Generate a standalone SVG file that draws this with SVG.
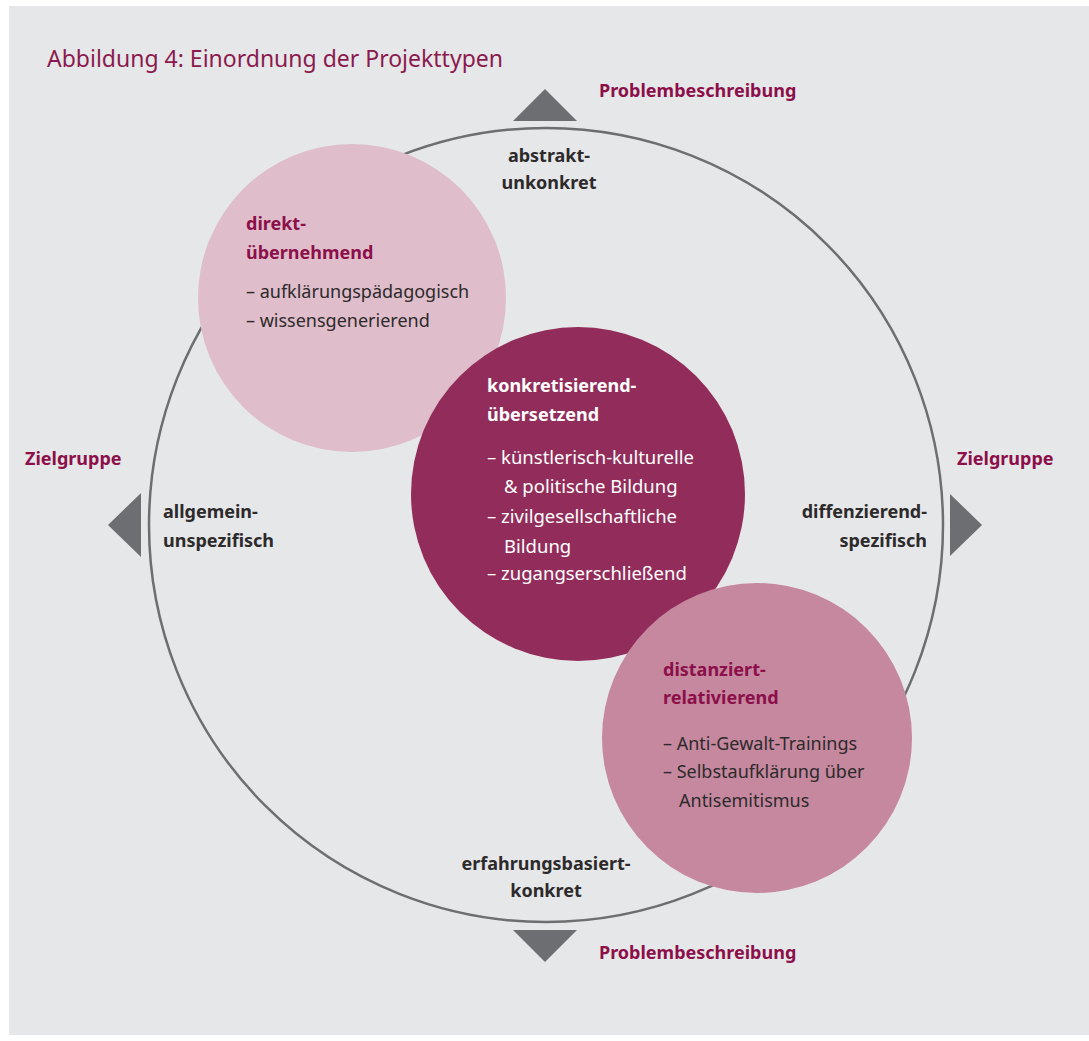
<svg xmlns="http://www.w3.org/2000/svg" width="1089" height="1041" viewBox="0 0 1089 1041">
<style>
text{font-family:"Noto Sans","Liberation Sans",sans-serif}
.title{font-size:23px;fill:#8b1a4f}
.axis{font-size:18px;font-weight:bold;fill:#8c0f4a}
.pole{font-size:18px;font-weight:bold;fill:#2d2a2b}
.head{font-size:18px;font-weight:bold;fill:#8c0f4a}
.headw{font-size:18px;font-weight:bold;fill:#ffffff}
.item{font-size:18px;fill:#2d2a2b}
.itemw{font-size:18.5px;fill:#ffffff}
.tri{fill:#6d6e71}
</style>
<rect x="0" y="0" width="1089" height="1041" fill="#ffffff"/>
<rect x="9" y="6" width="1080" height="1029" fill="#e6e7e8"/>
<text class="title" x="47" y="67">Abbildung 4: Einordnung der Projekttypen</text>
<g id="connectors">
<circle cx="546" cy="525" r="397" fill="none" stroke="#6d6e71" stroke-width="2.5"/>
<polygon class="tri" points="513,121 577,121 545,89"/>
<polygon class="tri" points="513,930 577,930 545,962"/>
<polygon class="tri" points="141,493 141,557 108,525"/>
<polygon class="tri" points="950,494 950,556 982,525"/>
</g>
<g id="axis-labels">
<text class="axis" x="599" y="97">Problembeschreibung</text>
<text class="axis" x="599" y="959">Problembeschreibung</text>
<text class="axis" x="25" y="465">Zielgruppe</text>
<text class="axis" x="957" y="465">Zielgruppe</text>
<text class="pole" x="549" y="162" text-anchor="middle">abstrakt-</text>
<text class="pole" x="549" y="189" text-anchor="middle">unkonkret</text>
<text class="pole" x="163" y="518">allgemein-</text>
<text class="pole" x="163" y="547">unspezifisch</text>
<text class="pole" x="927" y="518" text-anchor="end">diffenzierend-</text>
<text class="pole" x="927" y="547" text-anchor="end">spezifisch</text>
<text class="pole" x="546" y="870" text-anchor="middle">erfahrungsbasiert-</text>
<text class="pole" x="546" y="897" text-anchor="middle">konkret</text>
</g>
<g id="node-direkt">
<circle cx="352" cy="298" r="154" fill="#dfbdca"/>
<text class="head" x="246" y="230">direkt-</text>
<text class="head" x="246" y="259">übernehmend</text>
<text class="item" x="246" y="298">– aufklärungspädagogisch</text>
<text class="item" x="246" y="327">– wissensgenerierend</text>
</g>
<g id="node-konkret">
<circle cx="578" cy="494" r="167" fill="#922d5b"/>
<text class="headw" x="487" y="392">konkretisierend-</text>
<text class="headw" x="487" y="421">übersetzend</text>
<text class="itemw" x="487" y="464">– künstlerisch-kulturelle</text>
<text class="itemw" x="504" y="493">&amp; politische Bildung</text>
<text class="itemw" x="487" y="523">– zivilgesellschaftliche</text>
<text class="itemw" x="504" y="553">Bildung</text>
<text class="itemw" x="487" y="580">– zugangserschließend</text>
</g>
<g id="node-distanziert">
<circle cx="757" cy="738" r="155" fill="#c5889f"/>
<text class="head" x="663" y="676">distanziert-</text>
<text class="head" x="663" y="704">relativierend</text>
<text class="item" x="663" y="750">– Anti-Gewalt-Trainings</text>
<text class="item" x="663" y="778">– Selbstaufklärung über</text>
<text class="item" x="679" y="807">Antisemitismus</text>
</g>
</svg>
